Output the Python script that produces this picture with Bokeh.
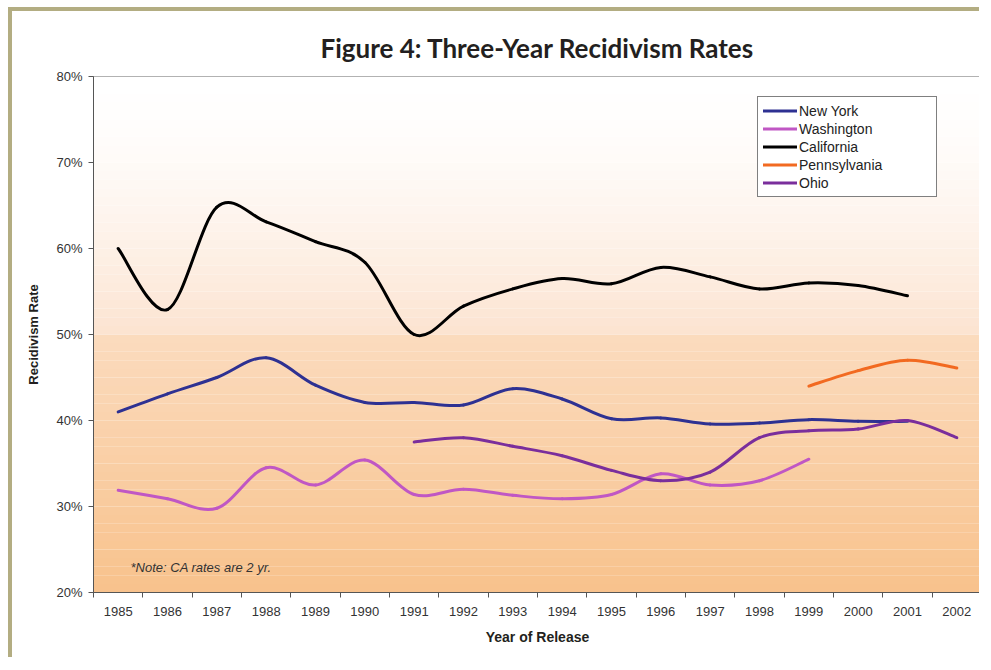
import numpy as np
from bokeh.plotting import figure
from bokeh.models import (Range1d, FixedTicker, NumeralTickFormatter, BoxAnnotation,
                          Label, Legend, LegendItem)
from bokeh.embed import file_html
from bokeh.resources import INLINE

# ---------------- data (percent) ----------------
years = list(range(1985, 2003))
new_york = [41.0, 43.1, 45.0, 47.3, 44.1, 42.1, 42.1, 41.8, 43.7, 42.5, 40.2, 40.3, 39.6, 39.7, 40.1, 39.9, 39.9, None]
washington = [31.9, 30.9, 29.8, 34.5, 32.5, 35.4, 31.4, 32.0, 31.3, 30.9, 31.4, 33.8, 32.5, 33.0, 35.5, None, None, None]
california = [60.0, 52.9, 64.8, 63.1, 60.8, 58.4, 50.0, 53.3, 55.3, 56.5, 55.9, 57.8, 56.7, 55.3, 56.0, 55.7, 54.5, None]
pennsylvania = [None] * 14 + [44.0, 45.8, 47.0, 46.1]
ohio = [None] * 6 + [37.5, 38.0, 37.0, 35.9, 34.2, 33.0, 34.0, 38.0, 38.8, 39.0, 40.0, 38.0]

series = [
    ("New York", new_york, "#2E3192"),
    ("Washington", washington, "#C057C4"),
    ("California", california, "#000000"),
    ("Pennsylvania", pennsylvania, "#F26A21"),
    ("Ohio", ohio, "#7A2E9C"),
]
y_ticks = [0.2, 0.3, 0.4, 0.5, 0.6, 0.7, 0.8]

KHAKI = "#B3AD82"
TICK_FONT = "Liberation Sans"

p = figure(width=971, height=650, output_backend="svg", toolbar_location=None,
           x_range=Range1d(1984.5, 2002.5), y_range=Range1d(0.2, 0.8),
           min_border_left=81, min_border_right=2, min_border_top=65, min_border_bottom=69,
           title="Figure 4: Three-Year Recidivism Rates")
p.styles = {"border-left": "4px solid " + KHAKI, "border-top": "4px solid " + KHAKI,
            "margin-left": "8px", "margin-top": "7px"}

p.title.align = "center"
p.title.text_font = "Lato"
p.title.text_font_size = "26px"
p.title.text_font_style = "bold"
p.title.text_color = "#231F20"
p.title.standoff = 25

p.background_fill_color = "white"
p.border_fill_color = "white"
p.outline_line_color = "#999999"
p.xgrid.visible = False
p.ygrid.visible = False

# gradient background (decorative strips)
def mix(c1, c2, f):
    a = np.array([int(c1[i:i + 2], 16) for i in (1, 3, 5)], float)
    b = np.array([int(c2[i:i + 2], 16) for i in (1, 3, 5)], float)
    c = a + (b - a) * min(max(f, 0.0), 1.0)
    return "#%02x%02x%02x" % tuple(int(round(v)) for v in c)

nstrip = 60
for k in range(nstrip):
    bot = 0.2 + 0.6 * k / nstrip
    top = 0.2 + 0.6 * (k + 1) / nstrip
    t = (0.8 - (bot + top) / 2) / 0.6
    if t < 0.5:
        col = mix("#FFFFFF", "#FCE3D0", (t / 0.5) ** 1.6)
    else:
        col = mix("#FBDBBE", "#F8C28C", (t - 0.5) / 0.5)
    p.add_layout(BoxAnnotation(bottom=bot, top=top, fill_color=col, fill_alpha=1.0,
                               line_color=None, level="underlay"))

# axes
xa = p.xaxis[0]
xa.ticker = FixedTicker(ticks=years, minor_ticks=[y - 0.5 for y in years] + [years[-1] + 0.5])
xa.major_tick_line_color = None
xa.minor_tick_line_color = "#555555"
xa.minor_tick_out = 5
xa.minor_tick_in = 0
xa.axis_line_color = "#555555"
xa.major_label_text_font = TICK_FONT
xa.major_label_text_font_size = "13px"
xa.major_label_text_color = "#333333"
xa.major_label_standoff = 8
xa.axis_label = "Year of Release"
xa.axis_label_text_font = "Liberation Sans"
xa.axis_label_text_font_size = "14px"
xa.axis_label_text_font_style = "bold"
xa.axis_label_text_color = "#231F20"
xa.axis_label_standoff = 10

ya = p.yaxis[0]
ya.ticker = FixedTicker(ticks=y_ticks)
ya.formatter = NumeralTickFormatter(format="0%")
ya.major_tick_out = 5
ya.major_tick_in = 0
ya.major_tick_line_color = "#555555"
ya.minor_tick_line_color = None
ya.axis_line_color = "#555555"
ya.major_label_text_font = TICK_FONT
ya.major_label_text_font_size = "13px"
ya.major_label_text_color = "#333333"
ya.major_label_standoff = 6
ya.axis_label = "Recidivism Rate"
ya.axis_label_text_font = "Liberation Sans"
ya.axis_label_text_font_size = "13px"
ya.axis_label_text_font_style = "bold"
ya.axis_label_text_color = "#231F20"
ya.axis_label_standoff = 12

# smoothed lines (Bezier through the data points)
items = []
for name, vals, color in series:
    xs = [y for y, v in zip(years, vals) if v is not None]
    ys = [v / 100.0 for v in vals if v is not None]
    n = len(xs)
    d = dict(x0=[], y0=[], x1=[], y1=[], cx0=[], cy0=[], cx1=[], cy1=[])
    for i in range(n - 1):
        a = i - 1 if i > 0 else i
        b = i + 2 if i + 2 < n else i + 1
        d["x0"].append(xs[i]); d["y0"].append(ys[i])
        d["x1"].append(xs[i + 1]); d["y1"].append(ys[i + 1])
        d["cx0"].append(xs[i] + (xs[i + 1] - xs[a]) / 6.0)
        d["cy0"].append(ys[i] + (ys[i + 1] - ys[a]) / 6.0)
        d["cx1"].append(xs[i + 1] - (xs[b] - xs[i]) / 6.0)
        d["cy1"].append(ys[i + 1] - (ys[b] - ys[i]) / 6.0)
    r = p.bezier(x0="x0", y0="y0", x1="x1", y1="y1", cx0="cx0", cy0="cy0",
                 cx1="cx1", cy1="cy1", source=d, line_color=color, line_width=3,
                 line_cap="round", line_join="round")
    items.append(LegendItem(label=name, renderers=[r]))

legend = Legend(items=items, location=(664, 395))
legend.border_line_color = "black"
legend.border_line_width = 1
legend.background_fill_color = "white"
legend.background_fill_alpha = 1.0
legend.label_text_font = TICK_FONT
legend.label_text_font_size = "14px"
legend.label_text_color = "#222222"
legend.glyph_width = 34
legend.glyph_height = 17
legend.label_height = 17
legend.label_width = 132
legend.label_standoff = 2
legend.spacing = 1
legend.padding = 5
legend.margin = 0
p.add_layout(legend)

p.add_layout(Label(x=1985.25, y=0.229, text="*Note: CA rates are 2 yr.",
                   text_font=TICK_FONT, text_font_size="13px", text_font_style="italic",
                   text_color="#333333", text_baseline="middle"))

open("out.html", "w").write(file_html(p, INLINE))
